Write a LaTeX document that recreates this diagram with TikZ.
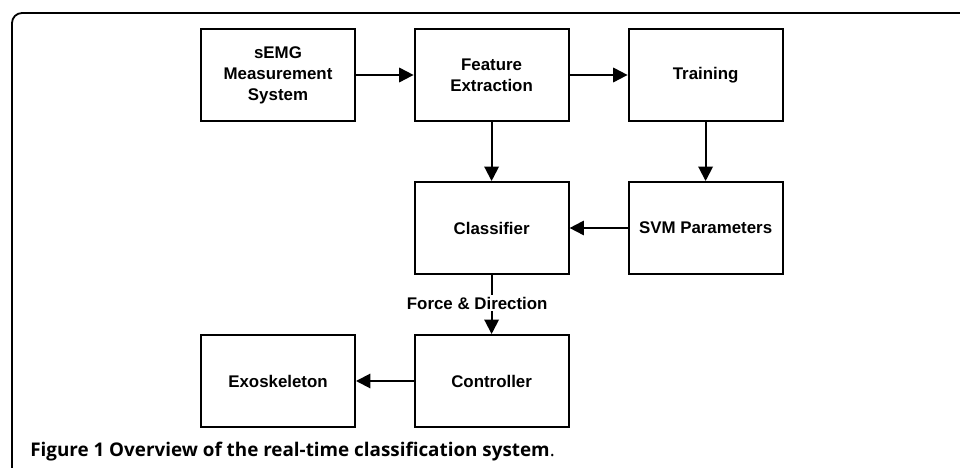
\documentclass[tikz,border=0pt]{standalone}
\usepackage{fontspec}
\setmainfont{Liberation Sans}
\newfontfamily\capfont{Open Sans}
\usetikzlibrary{arrows.meta}

\tikzset{
  block/.style={draw=black,line width=1.4pt,minimum width=3.85cm,minimum height=2.3cm,
    inner sep=0pt,align=center,font=\fontsize{12}{15}\selectfont\bfseries},
  flow/.style={line width=1.4pt,-{Triangle[length=3.6mm,width=3.6mm]}}
}

\begin{document}
\begin{tikzpicture}
\useasboundingbox (0,0) rectangle (24,11.7);
\draw[black,line width=1.3pt,rounded corners=0.25cm] (0.3,-0.1) -- (0.3,11.375) -- (24.1,11.375);
\node[block] (semg) at (6.95,9.825) {sEMG\\Measurement\\System};
\node[block] (feat) at (12.29,9.825) {Feature\\Extraction};
\node[block] (train) at (17.64,9.825) {Training};
\node[block] (class) at (12.29,6.0) {Classifier};
\node[block] (svm) at (17.64,6.0) {SVM Parameters};
\node[block] (ctrl) at (12.29,2.175) {Controller};
\node[block] (exo) at (6.95,2.175) {Exoskeleton};
\draw[flow] (semg) -- (feat);
\draw[flow] (feat) -- (train);
\draw[flow] (feat) -- (class);
\draw[flow] (train) -- (svm);
\draw[flow] (svm) -- (class);
\draw[flow] (class) -- (ctrl);
\node[fill=white,inner sep=1pt,font=\fontsize{12}{15}\selectfont\bfseries] (force) at (11.93,4.125) {Force \& Direction};
\draw[flow] (ctrl) -- (exo);
\node[anchor=base west,inner sep=0pt,font=\capfont\fontsize{13.4}{15}\selectfont] (cap) at (0.75,0.28)
  {\textbf{Figure 1 Overview of the real-time classification system}.};
\end{tikzpicture}
\end{document}
